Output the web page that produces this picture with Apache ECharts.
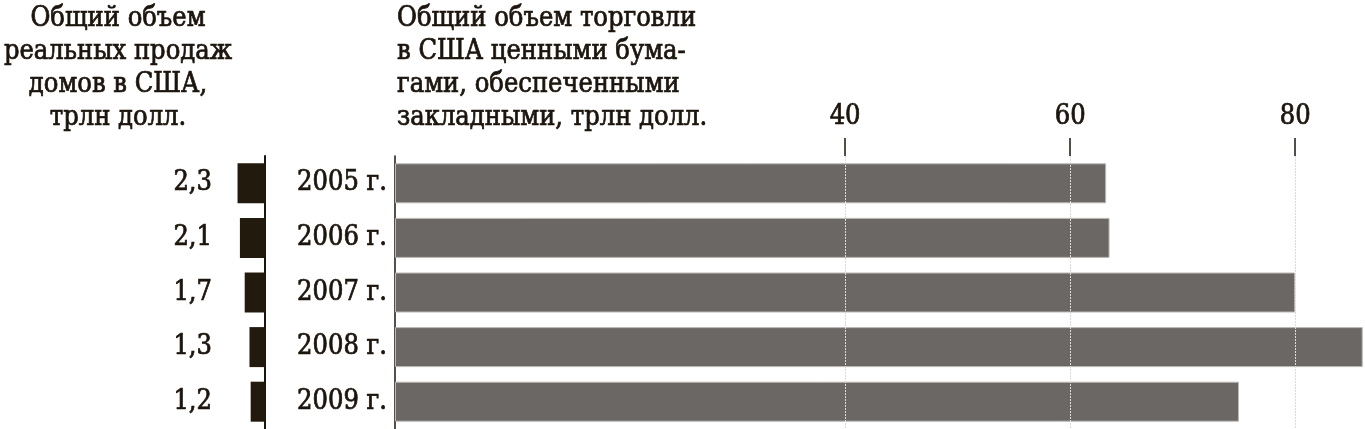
<!DOCTYPE html>
<html>
<head>
<meta charset="utf-8">
<script src="https://cdn.jsdelivr.net/npm/echarts@6/dist/echarts.min.js"></script>
<style>
  html, body { margin: 0; padding: 0; background: #fff; }
  #main { width: 1365px; height: 429px; }
</style>
</head>
<body>
<div id="main"></div>
<script>
// data
const years = ['2005 г.', '2006 г.', '2007 г.', '2008 г.', '2009 г.'];
const homeSales = [2.3, 2.1, 1.7, 1.3, 1.2];          // трлн долл.
const mbsTrading = [63.2, 63.5, 80.0, 86.0, 75.0];    // трлн долл.
const tradeTicks = [40, 60, 80];

const FONT = '"DejaVu Serif Condensed", "DejaVu Serif", serif';
const INK = '#1c150d';
const FS = 27;

const fmt = (v) => String(v).replace('.', ',');

// a thin stroke to get the heavier print look
const ink = {
  fontFamily: FONT, fontSize: FS, fontWeight: 'normal', color: INK,
  textBorderColor: INK, textBorderWidth: 0.7,
};

const chart = echarts.init(document.getElementById('main'), null, { renderer: 'canvas' });

chart.setOption({
  backgroundColor: '#fff',
  animation: false,
  textStyle: { fontFamily: FONT, color: INK },
  title: [
    {
      text: 'Общий объем\nреальных продаж\nдомов в США,\nтрлн долл.',
      left: 113,
      top: -3,
      textAlign: 'center',
      textStyle: Object.assign({ lineHeight: 33 }, ink),
    },
    {
      text: 'Общий объем торговли\nв США ценными бума-\nгами, обеспеченными\nзакладными, трлн долл.',
      left: 392,
      top: -3,
      textStyle: Object.assign({ lineHeight: 33 }, ink),
    },
  ],
  grid: [
    { left: 222, width: 43, top: 156, height: 273 },
    { left: 395, right: 0, top: 156, height: 273 },
  ],
  xAxis: [
    {
      gridIndex: 0,
      type: 'value',
      inverse: true,
      min: 0,
      max: 3.6,
      show: false,
    },
    {
      gridIndex: 1,
      type: 'value',
      position: 'top',
      min: 0,
      max: 86.2,
      interval: 20,
      z: 5,
      axisLine: { show: false },
      axisTick: {
        show: true,
        customValues: tradeTicks,
        length: 18,
        lineStyle: { color: INK, width: 1.5 },
      },
      axisLabel: Object.assign({ customValues: tradeTicks, margin: 26 }, ink),
      splitLine: {
        show: true,
        lineStyle: { color: '#dcdad8', width: 1, type: [2, 1] },
      },
    },
  ],
  yAxis: [
    {
      gridIndex: 0,
      type: 'category',
      data: years,
      inverse: true,
      position: 'right',
      axisLine: { show: true, lineStyle: { color: INK, width: 2 } },
      axisTick: { show: false },
      axisLabel: { show: false },
    },
    {
      gridIndex: 0,
      type: 'category',
      data: homeSales.map(fmt),
      inverse: true,
      position: 'left',
      axisLine: { show: false },
      axisTick: { show: false },
      axisLabel: Object.assign({ margin: 10 }, ink),
    },
    {
      gridIndex: 1,
      type: 'category',
      data: years,
      inverse: true,
      position: 'left',
      axisLine: { show: true, lineStyle: { color: INK, width: 1.5 } },
      axisTick: { show: false },
      axisLabel: Object.assign({ margin: 8 }, ink),
    },
  ],
  series: [
    {
      type: 'bar',
      xAxisIndex: 0,
      yAxisIndex: 0,
      data: homeSales,
      barWidth: 40,
      itemStyle: { color: '#231a0e' },
    },
    {
      type: 'bar',
      xAxisIndex: 1,
      yAxisIndex: 2,
      data: mbsTrading,
      barWidth: 40,
      itemStyle: { color: '#6b6765', borderColor: '#bdb9b5', borderWidth: 1 },
    },
  ],
});
</script>
</body>
</html>
